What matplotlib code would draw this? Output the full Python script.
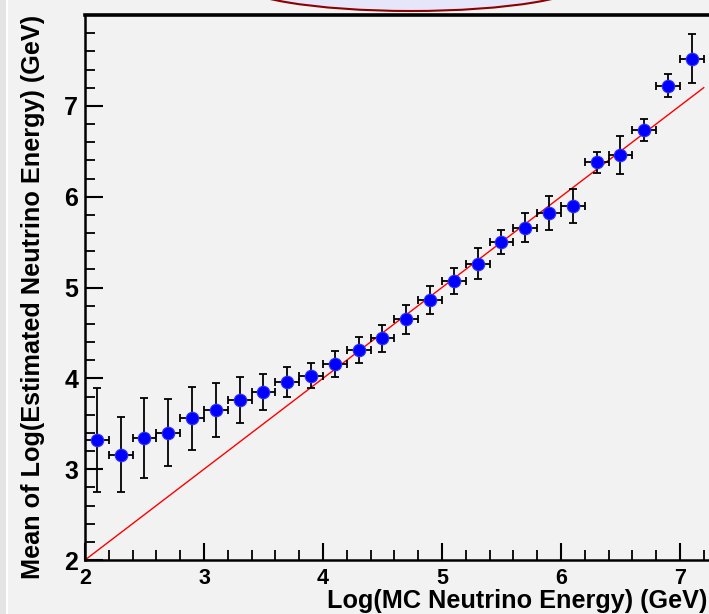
import matplotlib
matplotlib.use("Agg")
import matplotlib.pyplot as plt
from matplotlib.patches import Ellipse, Rectangle
from matplotlib.ticker import MultipleLocator

# Bin centres of log10(true energy) and mean reconstructed log energy per bin
log_true = [2.1, 2.3, 2.5, 2.7, 2.9, 3.1, 3.3, 3.5, 3.7, 3.9, 4.1, 4.3, 4.5,
            4.7, 4.9, 5.1, 5.3, 5.5, 5.7, 5.9, 6.1, 6.3, 6.5, 6.7, 6.9, 7.1]
mean_log_est = [3.32, 3.16, 3.34, 3.40, 3.56, 3.65, 3.76, 3.85, 3.96, 4.03,
                4.16, 4.31, 4.44, 4.65, 4.86, 5.07, 5.26, 5.50, 5.66, 5.82,
                5.90, 6.38, 6.46, 6.73, 7.22, 7.52]
err_est = [0.57, 0.41, 0.44, 0.37, 0.35, 0.30, 0.25, 0.20, 0.16, 0.14,
           0.14, 0.14, 0.15, 0.16, 0.155, 0.145, 0.17, 0.13, 0.16, 0.19,
           0.185, 0.115, 0.21, 0.12, 0.125, 0.27]
half_bin = [0.1] * len(log_true)

# Ideal response y = x
ref_x = [2.0, 7.2]

W, H = 709, 614
fig = plt.figure(figsize=(W / 100, H / 100), dpi=100)
fig.patch.set_facecolor("#f2f2f2")

# Canvas frame strip on the left edge
fig.patches.append(Rectangle((0, 0), 6 / W, 1, transform=fig.transFigure,
                             facecolor="#e4e4e4", edgecolor="none", zorder=0))
fig.patches.append(Rectangle((6 / W, 0), 2 / W, 1, transform=fig.transFigure,
                             facecolor="#ffffff", edgecolor="none", zorder=0))

# Title box peeking in at the top
fig.patches.append(Ellipse((411 / W, 1 + 19 / H), 2 * 176 / W, 2 * 30 / H,
                           transform=fig.transFigure, facecolor="#e6e6fa",
                           edgecolor="#8b0000", linewidth=1.5, zorder=1))

left, right = 85, 709
top, bottom = 15, 560
ax = fig.add_axes([left / W, (H - bottom) / H, (right - left) / W, (bottom - top) / H])
ax.set_facecolor("#f2f2f2")

px_per_unit = 118.8
ax.set_xlim(2.0, 2.0 + (right - left - 1) / px_per_unit)
ax.set_ylim(2.0, 8.0)

ax.plot(ref_x, ref_x, color="#ff0000", linewidth=1.0, zorder=2)

ax.errorbar(log_true, mean_log_est, xerr=half_bin, yerr=err_est,
            fmt="none", ecolor="black", elinewidth=1.3, capsize=3.2,
            capthick=1.3, zorder=3)
ax.plot(log_true, mean_log_est, "o", color="#0000ff", markersize=9,
        markeredgewidth=0.8, markeredgecolor="#3030ff", zorder=4)

font = "Liberation Sans"

ax.xaxis.set_major_locator(MultipleLocator(1))
ax.xaxis.set_minor_locator(MultipleLocator(0.2))
ax.yaxis.set_major_locator(MultipleLocator(1))
ax.yaxis.set_minor_locator(MultipleLocator(0.2))

ax.tick_params(axis="both", which="both", direction="in", colors="black",
               top=False, right=False)
ax.tick_params(axis="x", which="major", length=12, width=1.5, pad=6)
ax.tick_params(axis="x", which="minor", length=7, width=1.3)
ax.tick_params(axis="y", which="major", length=13, width=1.5, pad=5)
ax.tick_params(axis="y", which="minor", length=7, width=1.3)

ax.set_yticks([2, 3, 4, 5, 6, 7])
for lab in ax.get_xticklabels():
    lab.set_fontfamily(font)
    lab.set_fontweight("bold")
    lab.set_fontsize(15.5)
for lab in ax.get_yticklabels():
    lab.set_fontfamily(font)
    lab.set_fontweight("bold")
    lab.set_fontsize(18)

for side in ("left", "bottom"):
    ax.spines[side].set_linewidth(1.8)
ax.spines["top"].set_linewidth(2.6)
ax.spines["right"].set_visible(False)

fig.text(707 / W, 1 - 608 / H, "Log(MC Neutrino Energy) (GeV)", ha="right",
         va="baseline", fontfamily=font, fontweight="bold", fontsize=18.2)
fig.text(33 / W, 1 - 15 / H, "Mean of Log(Estimated Neutrino Energy) (GeV)",
         rotation=90, ha="center", va="top", fontfamily=font,
         fontweight="bold", fontsize=18.2)

fig.savefig("out.png", dpi=100, facecolor=fig.get_facecolor())
